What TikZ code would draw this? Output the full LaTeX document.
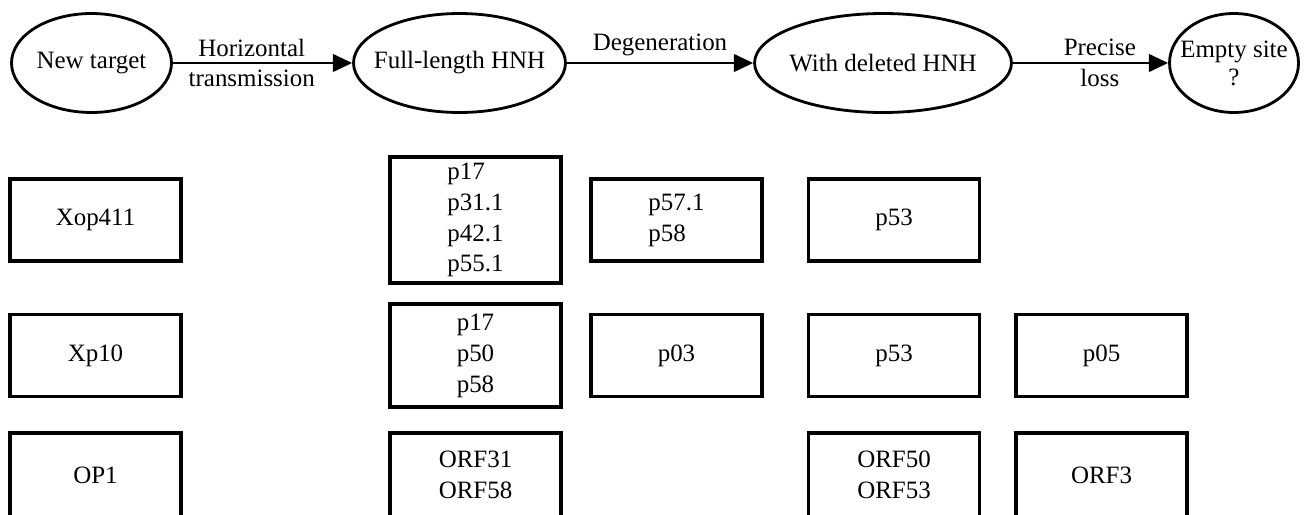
\documentclass[tikz,border=0pt]{standalone}
\usepackage{fontspec}
\setmainfont{Liberation Serif}
\usetikzlibrary{arrows.meta, shapes.geometric}

\begin{document}
\begin{tikzpicture}[
    x=0.02cm, y=-0.02cm,
    every node/.style={font=\fontsize{14.2}{17.6}\selectfont},
    stage/.style={ellipse, draw, line width=1.6pt, inner xsep=-8pt, inner ysep=0pt, align=center, minimum height=1.98cm},
    gene/.style={draw, line width=2pt, minimum width=3.42cm, minimum height=1.64cm, align=center},
    trans/.style={-{Triangle[length=11pt, width=10pt]}, line width=1.6pt},
    tight/.style={font=\fontsize{14.2}{16}\selectfont}
]
\path[use as bounding box] (0,0) rectangle (1307,514);
\clip (0,0) rectangle (1307,514);

% fate of the HNH element
\node[stage, minimum width=3.2cm] (newtarget) at (91.5,63) {New target};
\node[stage, minimum width=4.24cm] (fulllength) at (459.5,63) {Full-length HNH};
\node[stage, minimum width=5.14cm] (deleted) at (883,63) {With deleted HNH};
\node[stage, tight, minimum width=2.58cm] (emptysite) at (1234,63) {Empty site\\?};
\draw[trans] (newtarget) -- node[pos=0.44, align=center] {Horizontal\\transmission} (fulllength);
\draw[trans] (fulllength) -- node[above] {Degeneration} (deleted);
\draw[trans] (deleted) -- node[pos=0.56, align=center] {Precise\\loss} (emptysite);

% row 1
\node[gene] (xop411) at (95.5,220) {Xop411};
\node[gene, minimum height=2.52cm, align=left] (fullA) at (475.5,220) {p17\\p31.1\\p42.1\\p55.1};
\node[gene, align=left] (partA) at (676.5,220) {p57.1\\p58};
\node[gene] (delA) at (894,220) {p53};

% row 2
\node[gene] (xp10) at (95.5,355.5) {Xp10};
\node[gene, minimum height=2.06cm, align=left] (fullB) at (475.5,355.5) {p17\\p50\\p58};
\node[gene] (partB) at (676.5,355.5) {p03};
\node[gene] (delB) at (894,355.5) {p53};
\node[gene] (emptyB) at (1101.5,355.5) {p05};

% row 3
\node[gene, minimum height=1.68cm] (op1) at (95.5,475) {OP1};
\node[gene, minimum height=1.68cm] (fullC) at (475.5,475) {ORF31\\ORF58};
\node[gene, minimum height=1.68cm] (delC) at (894,475) {ORF50\\ORF53};
\node[gene, minimum height=1.68cm] (emptyC) at (1101.5,475) {ORF3};
\end{tikzpicture}
\end{document}
